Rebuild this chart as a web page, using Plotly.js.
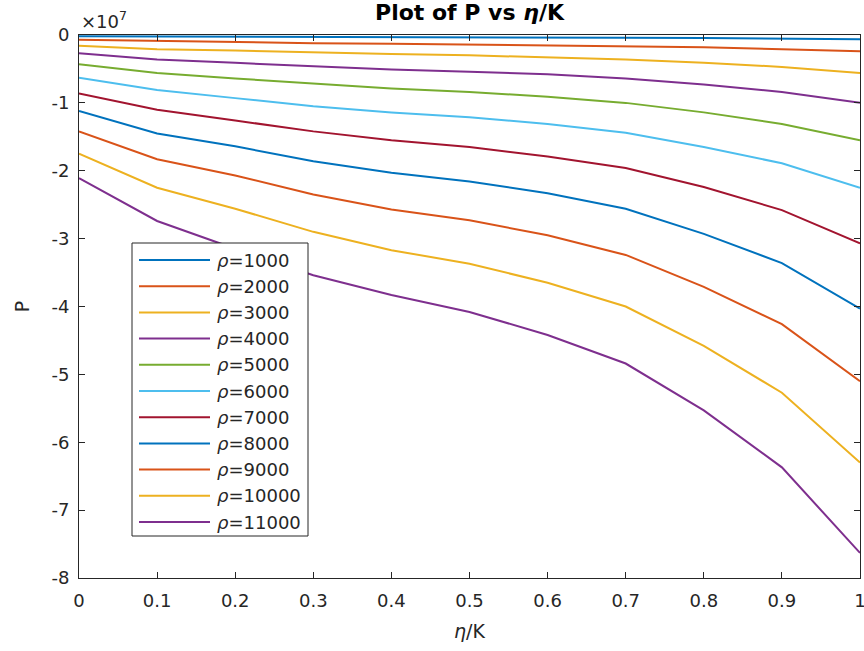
<!DOCTYPE html>
<html>
<head>
<meta charset="utf-8">
<script src="https://cdn.plot.ly/plotly-3.0.1.min.js"></script>
<style>
  html, body { margin: 0; padding: 0; background: #ffffff; }
  #chart { width: 864px; height: 651px; }
</style>
</head>
<body>
<div id="chart"></div>
<script>
// eta/K sample points
const etaK = [0, 0.1, 0.2, 0.3, 0.4, 0.5, 0.6, 0.7, 0.8, 0.9, 1.0];

// Density of each curve
const rho = [1000, 2000, 3000, 4000, 5000, 6000, 7000, 8000, 9000, 10000, 11000];

// Pressure P for each density, in units of 1e7
const P_rho1000  = [-0.017, -0.019, -0.025, -0.029, -0.032, -0.034, -0.036, -0.040, -0.046, -0.053, -0.063];
const P_rho2000  = [-0.07, -0.09, -0.10, -0.12, -0.13, -0.14, -0.15, -0.16, -0.18, -0.21, -0.24];
const P_rho3000  = [-0.16, -0.21, -0.23, -0.26, -0.28, -0.30, -0.33, -0.36, -0.41, -0.47, -0.56];
const P_rho4000  = [-0.27, -0.36, -0.41, -0.46, -0.51, -0.54, -0.58, -0.64, -0.73, -0.84, -1.00];
const P_rho5000  = [-0.43, -0.56, -0.64, -0.72, -0.79, -0.84, -0.91, -1.00, -1.14, -1.31, -1.55];
const P_rho6000  = [-0.63, -0.81, -0.93, -1.05, -1.14, -1.21, -1.31, -1.44, -1.65, -1.89, -2.25];
const P_rho7000  = [-0.86, -1.10, -1.26, -1.42, -1.55, -1.65, -1.79, -1.96, -2.24, -2.58, -3.07];
const P_rho8000  = [-1.12, -1.45, -1.64, -1.86, -2.03, -2.16, -2.33, -2.56, -2.93, -3.36, -4.03];
const P_rho9000  = [-1.42, -1.83, -2.07, -2.35, -2.57, -2.73, -2.95, -3.24, -3.71, -4.26, -5.10];
const P_rho10000 = [-1.75, -2.25, -2.56, -2.90, -3.17, -3.37, -3.65, -4.00, -4.58, -5.27, -6.30];
const P_rho11000 = [-2.11, -2.74, -3.15, -3.54, -3.83, -4.08, -4.42, -4.84, -5.53, -6.37, -7.63];

const seriesP = [P_rho1000, P_rho2000, P_rho3000, P_rho4000, P_rho5000, P_rho6000,
                 P_rho7000, P_rho8000, P_rho9000, P_rho10000, P_rho11000];

// Axis ticks
const xTicks = [0, 0.1, 0.2, 0.3, 0.4, 0.5, 0.6, 0.7, 0.8, 0.9, 1];
const xTickText = ['0', '0.1', '0.2', '0.3', '0.4', '0.5', '0.6', '0.7', '0.8', '0.9', '1'];
const yTicks = [0, -1, -2, -3, -4, -5, -6, -7, -8];

// Default colour order, cycling after seven
const colorOrder = ['#0072BD', '#D95319', '#EDB120', '#7E2F8E', '#77AC30', '#4DBEEE', '#A2142F'];

const FONT = 'DejaVu Sans, Liberation Sans, Arial, sans-serif';
const TXT = '#262626';

// Figure geometry (pixels)
const W = 864, H = 651;
const M = { l: 79, r: 4, t: 35, b: 73 };
const plotW = W - M.l - M.r, plotH = H - M.t - M.b;
const px2x = px => (px - M.l) / plotW;
const px2y = py => 1 - (py - M.t) / plotH;

const labelFor = r => '<i>\u03C1</i>=' + r;

const traces = rho.map((r, i) => ({
  type: 'scatter',
  mode: 'lines',
  x: etaK,
  y: seriesP[i],
  name: labelFor(r),
  showlegend: false,
  line: { color: colorOrder[i % colorOrder.length], width: 2 }
}));

// Boxed legend in the lower-left part of the axes
const LEG = { left: 132, right: 308, top: 243, bottom: 536, firstRow: 260, rowStep: 26.2,
              lineFrom: 139, lineTo: 210, textAt: 215 };
const shapes = [{
  type: 'rect', xref: 'paper', yref: 'paper', layer: 'above',
  x0: px2x(LEG.left), x1: px2x(LEG.right), y0: px2y(LEG.bottom), y1: px2y(LEG.top),
  fillcolor: '#ffffff', line: { color: '#262626', width: 1 }
}];
const annotations = [{
  xref: 'paper', yref: 'paper', x: 0, y: 1, xanchor: 'left', yanchor: 'bottom',
  yshift: 1,
  text: '\u00D710<sup>7</sup>', showarrow: false,
  font: { family: FONT, size: 18, color: TXT }
}];
rho.forEach((r, i) => {
  const yRow = px2y(LEG.firstRow + i * LEG.rowStep);
  shapes.push({
    type: 'line', xref: 'paper', yref: 'paper', layer: 'above',
    x0: px2x(LEG.lineFrom), x1: px2x(LEG.lineTo), y0: yRow, y1: yRow,
    line: { color: colorOrder[i % colorOrder.length], width: 2 }
  });
  annotations.push({
    xref: 'paper', yref: 'paper', x: px2x(LEG.textAt), y: yRow,
    xanchor: 'left', yanchor: 'middle', showarrow: false,
    text: labelFor(r), font: { family: FONT, size: 18, color: TXT }
  });
});

const axisCommon = {
  showgrid: false,
  zeroline: false,
  showline: true,
  linecolor: '#262626',
  linewidth: 1,
  mirror: 'allticks',
  ticks: 'inside',
  ticklen: 6,
  tickwidth: 1,
  tickcolor: '#262626',
  ticklabeloverflow: 'allow',
  tickfont: { family: FONT, size: 18, color: TXT }
};

const layout = {
  width: W,
  height: H,
  margin: M,
  paper_bgcolor: '#ffffff',
  plot_bgcolor: '#ffffff',
  showlegend: false,
  title: {
    text: '<b>Plot of P vs <i>\u03B7</i>/K</b>',
    font: { family: FONT, size: 22, color: '#000000' },
    x: 0.5, xref: 'paper', xanchor: 'center',
    y: 0.981, yref: 'container', yanchor: 'middle'
  },
  xaxis: Object.assign({}, axisCommon, {
    range: [0, 1],
    tickmode: 'array', tickvals: xTicks, ticktext: xTickText,
    ticklabelstandoff: 6,
    title: { text: '<i>\u03B7</i>/K', font: { family: FONT, size: 19, color: TXT }, standoff: 15 }
  }),
  yaxis: Object.assign({}, axisCommon, {
    range: [-8, 0],
    tickmode: 'array', tickvals: yTicks, ticktext: yTicks.map(String),
    ticklabelstandoff: 5,
    title: { text: 'P', font: { family: FONT, size: 19, color: TXT }, standoff: 16 }
  }),
  shapes: shapes,
  annotations: annotations
};

Plotly.newPlot('chart', traces, layout, { displayModeBar: false, staticPlot: true });
</script>
</body>
</html>
